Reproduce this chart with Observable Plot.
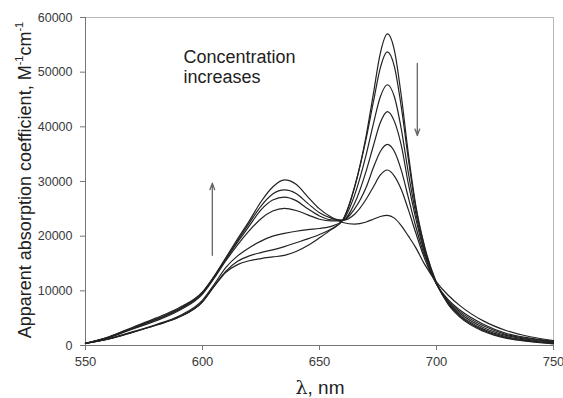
<!DOCTYPE html>
<html>
<head>
<meta charset="utf-8">
<script src="https://cdn.jsdelivr.net/npm/d3@7"></script>
<script src="https://cdn.jsdelivr.net/npm/@observablehq/plot@0.6"></script>
<style>
  html, body { margin: 0; padding: 0; background: #fff; }
  #chart { width: 563px; height: 398px; }
</style>
</head>
<body>
<div id="chart"></div>
<script>
// Wavelengths (nm)
const wavelengths = [550, 560, 570, 580, 590, 600, 605, 610, 615, 620, 625, 630, 635, 640, 645, 650, 655, 660, 665, 670, 673, 676, 679, 682, 685, 688, 691, 695, 700, 705, 710, 720, 730, 740, 750];

// Apparent absorption coefficient (M^-1 cm^-1), lowest to highest concentration
const series1 = [400, 1200, 2400, 3700, 5200, 8000, 10800, 13400, 14800, 15500, 15900, 16200, 16500, 17200, 18300, 19700, 21200, 23000, 29000, 38500, 46000, 53500, 57000, 54000, 45500, 35000, 26000, 18000, 11500, 7500, 5200, 2600, 1300, 700, 300];
const series2 = [400, 1200, 2400, 3700, 5200, 8000, 10900, 13600, 15400, 16400, 17000, 17500, 18100, 18800, 19500, 20300, 21300, 23000, 29000, 38000, 44500, 50800, 53700, 51000, 43500, 34000, 25500, 17700, 11400, 7700, 5400, 2800, 1450, 800, 380];
const series3 = [400, 1250, 2500, 3800, 5400, 8300, 11200, 14300, 16400, 17900, 19100, 20000, 20500, 20900, 21200, 21400, 21800, 22900, 27500, 35000, 40500, 45500, 47700, 45500, 39500, 31500, 24500, 17200, 11300, 7800, 5600, 3000, 1600, 900, 450];
const series4 = [400, 1450, 3000, 4500, 6400, 9400, 12300, 15500, 18400, 21000, 23200, 24600, 25100, 24700, 23900, 23100, 22800, 22900, 26000, 32000, 36500, 40800, 42800, 41000, 36500, 29500, 23500, 16800, 11300, 8000, 5900, 3300, 1800, 1050, 550];
const series5 = [400, 1500, 3100, 4700, 6600, 9600, 12500, 15800, 18900, 21900, 24800, 26600, 27150, 26500, 25000, 23700, 23000, 22900, 25000, 29000, 32500, 35500, 36800, 35500, 32000, 27000, 22000, 16300, 11300, 8200, 6200, 3600, 2000, 1200, 650];
const series6 = [400, 1550, 3200, 4800, 6700, 9700, 12600, 15900, 19200, 22400, 25500, 27700, 28450, 27800, 26000, 24300, 23300, 22900, 24000, 26800, 29000, 31200, 32100, 31000, 28500, 24800, 20800, 15800, 11200, 8400, 6500, 3900, 2200, 1350, 750];
const series7 = [400, 1600, 3300, 5000, 6900, 9800, 12700, 16100, 19500, 22800, 26300, 29000, 30300, 29500, 27200, 25000, 23500, 22500, 22200, 22600, 23100, 23600, 23800, 23300, 21900, 20000, 18000, 14800, 11600, 9200, 7300, 4500, 2700, 1600, 900];

const allSeries = [series1, series2, series3, series4, series5, series6, series7];

const xTicks = [550, 600, 650, 700, 750];
const yTicks = [0, 10000, 20000, 30000, 40000, 50000, 60000];

const data = [];
allSeries.forEach((vals, si) => {
  wavelengths.forEach((w, i) => data.push({ s: si, w, v: vals[i] }));
});

const font = "'Liberation Sans', Arial, sans-serif";

const chart = Plot.plot({
  width: 563,
  height: 398,
  marginLeft: 85,
  marginRight: 10,
  marginTop: 17,
  marginBottom: 53,
  style: { fontFamily: font, background: "#fff", overflow: "visible" },
  x: { domain: [550, 750] },
  y: { domain: [0, 60000] },
  marks: [
    Plot.frame({ stroke: "#b8b8b8" }),
    Plot.axisX({ ticks: xTicks, tickSize: 5, tickPadding: 6, tickFormat: d3.format("d"), label: null, fontSize: 13, color: "#3a3a3a", stroke: "#777" }),
    Plot.axisY({ ticks: yTicks, tickSize: 5, tickPadding: 8, tickFormat: d3.format("d"), label: null, fontSize: 12.5, color: "#3a3a3a", stroke: "#777" }),
    Plot.ruleX([550], { stroke: "#777" }),
    Plot.ruleY([0], { stroke: "#777" }),
    Plot.line(data, { x: "w", y: "v", z: "s", curve: "monotone-x", stroke: "#222", strokeWidth: 1.2 }),
    Plot.arrow([{ x1: 604.2, y1: 16500, x2: 604.2, y2: 29700 }], { x1: "x1", y1: "y1", x2: "x2", y2: "y2", stroke: "#666", strokeWidth: 1.3, headLength: 8, headAngle: 40 }),
    Plot.arrow([{ x1: 691.8, y1: 51600, x2: 691.8, y2: 38400 }], { x1: "x1", y1: "y1", x2: "x2", y2: "y2", stroke: "#666", strokeWidth: 1.3, headLength: 8, headAngle: 40 }),
    Plot.text(["Concentration"], { x: 591.9, y: 52700, text: d => d, textAnchor: "start", fontSize: 18, fill: "#222" }),
    Plot.text(["increases"], { x: 591.9, y: 49000, text: d => d, textAnchor: "start", fontSize: 18, fill: "#222" })
  ]
});

document.getElementById("chart").appendChild(chart);

const svg = d3.select(chart);
// Y axis label with superscripts
const yl = svg.append("text")
  .attr("transform", "translate(31,180) rotate(-90)")
  .attr("text-anchor", "middle")
  .attr("font-family", font)
  .attr("font-size", 18)
  .attr("fill", "#222");
yl.append("tspan").text("Apparent absorption coefficient, M");
yl.append("tspan").attr("font-size", 11).attr("dy", -8).text("-1");
yl.append("tspan").attr("dy", 8).text("cm");
yl.append("tspan").attr("font-size", 11).attr("dy", -8).text("-1");

// X axis label
const xl = svg.append("text")
  .attr("x", 320)
  .attr("y", 394)
  .attr("text-anchor", "middle")
  .attr("font-family", font)
  .attr("font-size", 19)
  .attr("fill", "#222");
xl.append("tspan").attr("font-family", "'DejaVu Serif', 'Liberation Serif', serif").text("λ");
xl.append("tspan").text(", nm");
</script>
</body>
</html>
